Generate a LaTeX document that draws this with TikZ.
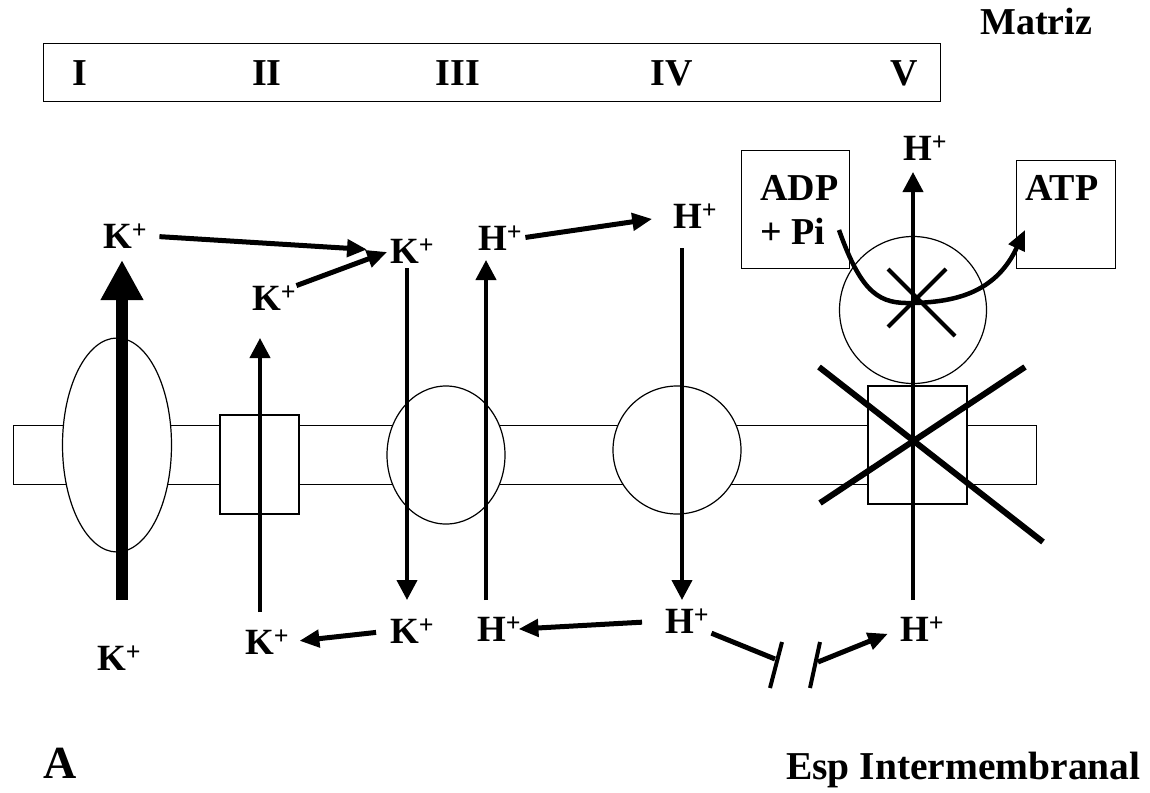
\documentclass[tikz,border=0pt]{standalone}
\usepackage{fontspec}
\setmainfont{Liberation Serif}
\usetikzlibrary{arrows.meta,shapes.geometric}
\begin{document}
\begin{tikzpicture}[x=1pt,y=-1pt,
  lbl/.style={inner sep=0pt, anchor=base west, font=\fontsize{37}{40}\selectfont\bfseries},
  roman/.style={inner sep=0pt, anchor=base, font=\fontsize{38}{40}\selectfont\bfseries},
  cplx/.style={draw, line width=1.2pt, fill=white, inner sep=0pt},
  thinarr/.style={line width=4pt, -{Triangle[length=20pt,width=20pt]}},
  bigarr/.style={line width=12pt, -{Triangle[length=40pt,width=40pt]}},
  diagarr/.style={line width=5pt, -{Triangle[length=20pt,width=17pt]}},
  cross/.style={line width=6pt},
  smallcross/.style={line width=4pt},
  bar/.style={line width=4pt}
]
\useasboundingbox (0,0) rectangle (1150,792);

% top complex box
\node[draw, line width=1.2pt, minimum width=897pt, minimum height=58pt, inner sep=0pt, anchor=north west] (cbox) at (43,43) {};
\node[roman] (nI) at (80,85) {I};
\node[roman] (nII) at (267,85) {II};
\node[roman] (nIII) at (458,85) {III};
\node[roman] (nIV) at (672,85) {IV};
\node[roman] (nV) at (904,85) {V};
\node[inner sep=0pt, anchor=base west, font=\fontsize{38}{40}\selectfont\bfseries] (matriz) at (980,35) {Matriz};

% membrane band and complexes
\node[draw, line width=1.2pt, minimum width=1023pt, minimum height=59pt, inner sep=0pt, anchor=north west] (band) at (13,425) {};
\node[cplx, ellipse, minimum width=109pt, minimum height=214pt] (cI) at (117,445) {};
\node[cplx, rectangle, minimum width=79pt, minimum height=99pt] (cII) at (259.5,464.5) {};
\node[cplx, ellipse, minimum width=118pt, minimum height=138pt] (cIII) at (446,455) {};
\node[cplx, circle, minimum size=128pt] (cIV) at (677,450) {};
\node[cplx, circle, minimum size=147pt] (cVhead) at (913,310) {};
\node[cplx, rectangle, minimum width=99pt, minimum height=118pt] (cV) at (917.5,445) {};

% ATP synthase boxes
\node[draw, line width=1.2pt, minimum width=108pt, minimum height=118pt, inner sep=0pt, anchor=north west] (adpbox) at (741,150) {};
\node[draw, line width=1.2pt, minimum width=99pt, minimum height=108pt, inner sep=0pt, anchor=north west] (atpbox) at (1016,160) {};
\node[lbl, font=\fontsize{38}{40}\selectfont\bfseries] (adp) at (760,200) {ADP};
\node[lbl, font=\fontsize{38}{40}\selectfont\bfseries] (pi) at (760,244) {+ Pi};
\node[lbl, font=\fontsize{38}{40}\selectfont\bfseries] (atp) at (1025,200) {ATP};

% ion labels
\node[lbl] (kTL) at (103,248) {K\textsuperscript{+}};
\node[lbl] (kIIm) at (252,310) {K\textsuperscript{+}};
\node[lbl] (kIIIt) at (390,263) {K\textsuperscript{+}};
\node[lbl] (hIIIt) at (478,250) {H\textsuperscript{+}};
\node[lbl] (hIVt) at (673,228) {H\textsuperscript{+}};
\node[lbl] (hVt) at (903,160) {H\textsuperscript{+}};
\node[lbl] (kIb) at (97,670) {K\textsuperscript{+}};
\node[lbl] (kIIb) at (245,654) {K\textsuperscript{+}};
\node[lbl] (kIIIb) at (390,643) {K\textsuperscript{+}};
\node[lbl] (hIIIb) at (477,641) {H\textsuperscript{+}};
\node[lbl] (hIVb) at (665,633) {H\textsuperscript{+}};
\node[lbl] (hVb) at (900,641) {H\textsuperscript{+}};

% bottom labels
\node[inner sep=0pt, anchor=base west, font=\fontsize{46}{48}\selectfont\bfseries] (lblA) at (43,778) {A};
\node[inner sep=0pt, anchor=base west, font=\fontsize{39.5}{42}\selectfont\bfseries] (esp) at (786,779) {Esp Intermembranal};

% coordinates for vertical arrows
\coordinate (Ib) at (122,600);   \coordinate (It) at (122,260);
\coordinate (IIb) at (260,612);  \coordinate (IIt) at (260,338);
\coordinate (IIIdt) at (407,268); \coordinate (IIIdb) at (407,600);
\coordinate (IIIub) at (486,600); \coordinate (IIIut) at (486,260);
\coordinate (IVt) at (682,248);  \coordinate (IVb) at (682,600);
\coordinate (Vb) at (913,600);   \coordinate (Vt) at (913,172);

\draw[bigarr] (Ib) -- (It);
\draw[thinarr] (IIb) -- (IIt);
\draw[thinarr] (IIIdt) -- (IIIdb);
\draw[thinarr] (IIIub) -- (IIIut);
\draw[thinarr] (IVt) -- (IVb);
\draw[thinarr] (Vb) -- (Vt);

% crosses on ATP synthase
\coordinate (x1a) at (819,367); \coordinate (x1b) at (1043,542);
\coordinate (x2a) at (1025,367); \coordinate (x2b) at (820,503);
\draw[cross] (x1a) -- (x1b);
\draw[cross] (x2a) -- (x2b);
\coordinate (s1a) at (888,269); \coordinate (s1b) at (955,336);
\coordinate (s2a) at (946,269); \coordinate (s2b) at (888,327);
\draw[smallcross] (s1a) -- (s1b);
\draw[smallcross] (s2a) -- (s2b);

% ADP -> ATP curve
\coordinate (cs) at (839,230); \coordinate (cm) at (913,303); \coordinate (ce) at (1025,230);
\draw[line width=4.5pt, -{Triangle[length=20pt,width=17pt]}]
  (cs) .. controls (862,295) and (880,304) .. (cm)
       .. controls (960,302) and (997,290) .. (ce);

% horizontal transfer arrows
\draw[diagarr, shorten <=12pt, shorten >=23pt] (kTL.east) -- (kIIIt.west);
\draw[diagarr, shorten >=3pt] (kIIm.north east) -- (kIIIt.west);
\draw[diagarr, shorten <=3pt, shorten >=21pt] (hIIIt.east) -- (hIVt.west);
\draw[diagarr, shorten <=14pt, shorten >=10pt] (kIIIb.west) -- (kIIb.east);
\draw[diagarr, shorten <=23pt, shorten >=-3pt] (hIVb.west) -- (hIIIb.east);

% broken path to ATP synthase
\coordinate (b1) at (775,659);
\coordinate (b1a) at (782,642); \coordinate (b1b) at (770,688);
\coordinate (b2a) at (820,642); \coordinate (b2b) at (810,688);
\coordinate (b2) at (818,662);
\draw[line width=5pt] ([xshift=2pt]hIVb.south east) -- (b1);
\draw[bar] (b1a) -- (b1b);
\draw[bar] (b2a) -- (b2b);
\draw[diagarr, shorten >=13pt] (b2) -- (hVb.west);
\end{tikzpicture}
\end{document}
